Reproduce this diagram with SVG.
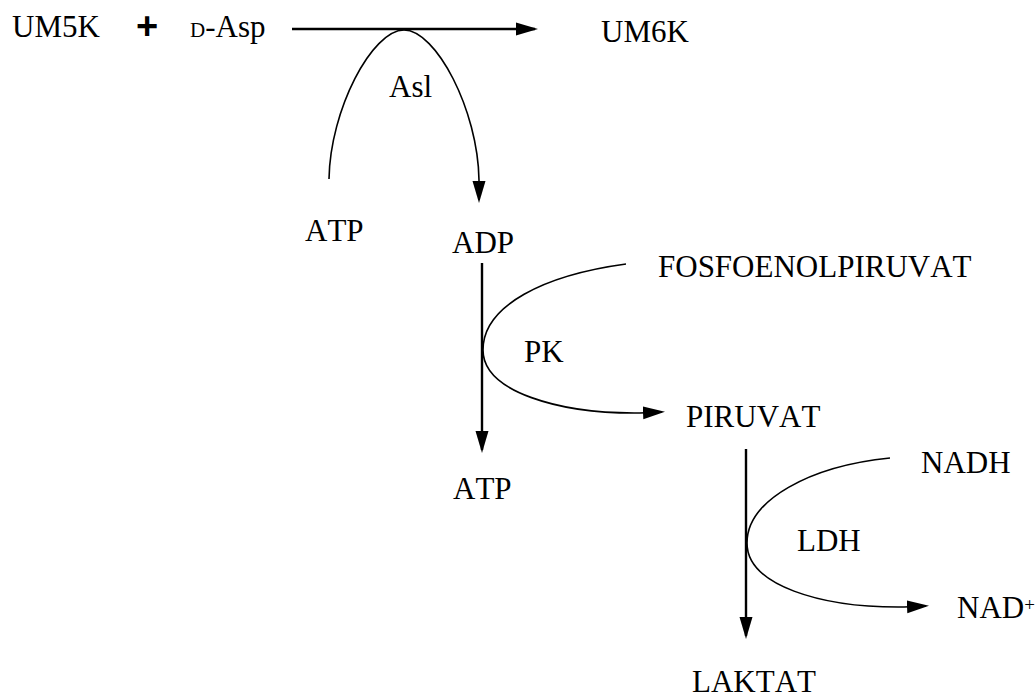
<svg xmlns="http://www.w3.org/2000/svg" width="1036" height="698" viewBox="0 0 1036 698">
  <style>
    text { font-family: "Liberation Serif", "Times New Roman", serif; font-size: 31px; fill: #000; font-kerning: none; }
    .plus { font-family: "Liberation Sans", Arial, sans-serif; font-weight: bold; font-size: 38px; }
    .thick { fill: none; stroke: #000; stroke-width: 2.4; }
    .thin { fill: none; stroke: #000; stroke-width: 1.6; }
  </style>
  <defs>
    <marker id="ah" markerUnits="userSpaceOnUse" markerWidth="22" markerHeight="14" viewBox="0 0 22 14" refX="19" refY="7" orient="auto">
      <path d="M0,0.5 L22,7 L0,13.5 z" fill="#000"/>
    </marker>
  </defs>
  <rect width="1036" height="698" fill="#fff"/>

  <g id="connectors">
    <path class="thick" d="M292,29 H535" marker-end="url(#ah)"/>
    <path class="thin" d="M329,179 C330,110 372,30 404,30 C436,30 478,110 479,180 L479,200" marker-end="url(#ah)"/>
    <path class="thick" d="M482,263 V450" marker-end="url(#ah)"/>
    <path class="thin" d="M626,264 C545,275 483,305 483,350 C483,392 560,414 640,413 L662,412" marker-end="url(#ah)"/>
    <path class="thick" d="M746,449 V636" marker-end="url(#ah)"/>
    <path class="thin" d="M890,458 C810,466 747,500 747,543 C747,585 820,608 904,607 L926,606" marker-end="url(#ah)"/>
  </g>

  <g id="node-um5k"><text x="12" y="37">UM5K</text></g>
  <g id="node-plus"><text class="plus" x="147" y="39" text-anchor="middle">+</text></g>
  <g id="node-dasp"><text x="190" y="37"><tspan font-size="21">D</tspan>-Asp</text></g>
  <g id="node-um6k"><text x="601" y="42">UM6K</text></g>
  <g id="label-asl"><text x="389" y="97">Asl</text></g>
  <g id="node-atp1"><text x="305" y="241">ATP</text></g>
  <g id="node-adp"><text x="452" y="253">ADP</text></g>
  <g id="node-pep"><text x="658" y="277">FOSFOENOLPIRUVAT</text></g>
  <g id="label-pk"><text x="524" y="362">PK</text></g>
  <g id="node-piruvat"><text x="686" y="427">PIRUVAT</text></g>
  <g id="node-atp2"><text x="453" y="499">ATP</text></g>
  <g id="node-nadh"><text x="921" y="473">NADH</text></g>
  <g id="label-ldh"><text x="797" y="551">LDH</text></g>
  <g id="node-nad"><text x="957" y="618">NAD<tspan font-size="19" dy="-7">+</tspan></text></g>
  <g id="node-laktat"><text x="692" y="692">LAKTAT</text></g>
</svg>
